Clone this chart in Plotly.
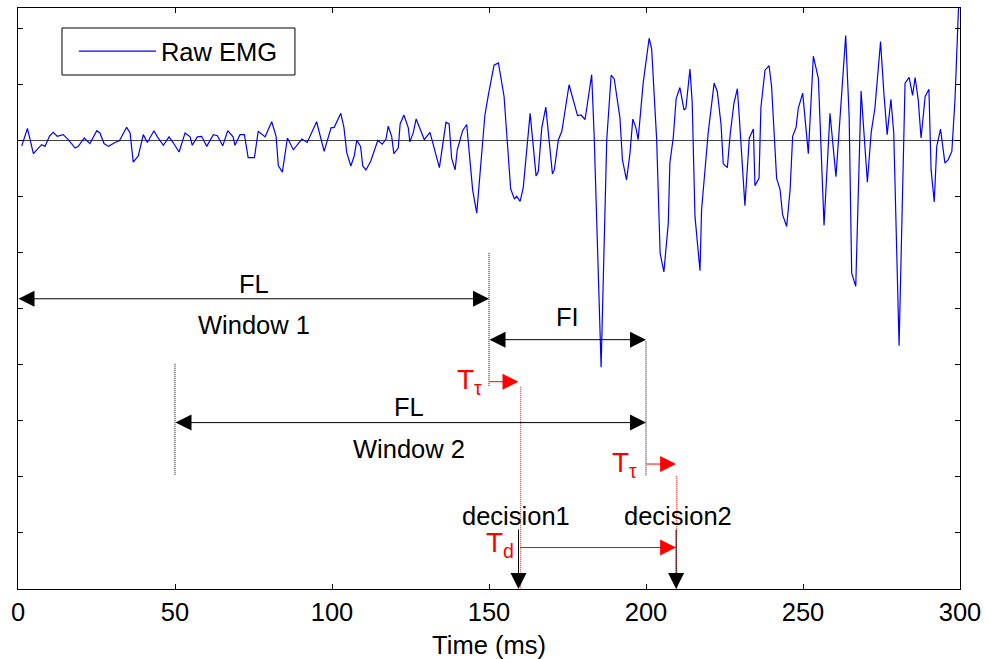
import plotly.graph_objects as go

# ---------------- data ----------------
time_ms = [1.2, 3.0, 4.9, 7.5, 8.6, 10.0, 11.2, 12.5, 14.4, 16.0, 18.2, 19.2, 21.1, 22.9, 25.1, 26.1,
           27.4, 28.8, 30.9, 32.3, 34.6, 35.7, 36.7, 38.3, 39.9, 41.2, 43.3, 44.4, 46.3, 48.1, 49.5,
           51.3, 53.2, 54.8, 55.5, 57.1, 58.5, 60.1, 62.2, 63.5, 65.2, 66.8, 68.5, 69.1, 70.7, 72.1,
           73.3, 75.3, 76.5, 78.7, 80.8, 82.2, 82.9, 84.2, 85.8, 87.7, 90.4, 92.1, 95.1, 97.5, 99.7,
           100.7, 102.8, 103.8, 104.7, 106.0, 107.1, 107.9, 109.1, 109.8, 110.8, 112.3, 114.6, 116.0,
           117.2, 117.9, 119.0, 119.7, 121.1, 121.7, 122.9, 124.3, 124.8, 125.9, 126.8, 127.8, 129.4,
           131.2, 133.0, 134.2, 136.3, 137.3, 138.1, 139.2, 139.9, 141.6, 142.9, 144.8, 146.1, 148.2,
           148.7, 149.8, 151.6, 153.0, 154.8, 156.9, 158.1, 158.8, 159.9, 160.9, 163.1, 165.0, 165.7,
           166.8, 168.1, 170.2, 170.8, 172.1, 173.2, 175.5, 178.2, 179.3, 180.6, 182.7, 183.5, 185.7,
           187.5, 188.9, 189.9, 191.7, 192.5, 193.8, 194.9, 195.8, 196.8, 197.5, 199.1, 201.0, 201.8,
           203.4, 204.5, 205.7, 207.1, 207.6, 208.7, 209.6, 210.8, 212.1, 212.7, 214.0, 214.7, 215.6,
           217.2, 217.7, 219.0, 219.8, 221.7, 222.7, 223.9, 224.6, 225.9, 226.8, 228.0, 229.1, 229.9,
           231.5, 232.9, 234.2, 234.7, 236.0, 236.6, 237.9, 239.2, 240.0, 241.6, 242.7, 243.5, 244.8,
           245.9, 246.7, 247.8, 248.5, 249.9, 251.7, 253.3, 254.9, 256.7, 258.6, 260.5, 263.6, 264.7,
           265.5, 266.8, 268.5, 270.5, 271.7, 272.9, 274.7, 275.8, 276.8, 278.0, 278.9, 280.6, 282.5,
           283.8, 284.9, 285.7, 286.7, 287.6, 288.9, 290.1, 290.8, 291.8, 292.6, 293.8, 295.2, 296.2,
           297.4, 298.4, 299.5, 300.0]
emg = [-0.09, 0.22, -0.23, -0.07, -0.10, 0.08, 0.15, 0.08, 0.11, 0.02, -0.13, -0.10, 0.05, -0.05, 0.18, 0.14,
       -0.05, -0.10, -0.03, 0.00, 0.24, 0.14, -0.38, -0.27, 0.11, -0.03, 0.18, 0.07, -0.08, 0.07, -0.04,
       -0.20, 0.14, 0.07, -0.08, 0.07, 0.08, -0.10, 0.11, 0.09, -0.09, 0.18, 0.07, -0.08, 0.11, 0.11,
       -0.30, -0.30, 0.17, 0.07, 0.34, 0.08, -0.44, -0.56, 0.05, -0.16, 0.03, -0.03, 0.34, -0.19, 0.23,
       0.24, 0.49, 0.24, -0.21, -0.45, -0.27, 0.01, -0.10, -0.45, -0.52, -0.37, 0.01, -0.06,
       0.03, 0.26, 0.08, -0.23, -0.13, 0.30, 0.46, 0.23, -0.02, 0.15, 0.39, 0.26, 0.02,
       0.15, -0.26, -0.48, 0.33, 0.30, -0.31, -0.52, -0.16, 0.18, 0.29, -0.88, -1.29, 0.02,
       0.46, 0.82, 1.35, 1.39, 0.79, -0.86, -1.04, -0.99, -1.08, -0.84, 0.49, -0.63, -0.55,
       0.23, 0.60, -0.59, -0.52, 0.02, 0.17, 1.00, 0.45, 0.46, 0.38, 1.18, 0.08, -4.04,
       0.02, 1.17, 1.10, 0.41, -0.34, -0.70, -0.22, 0.39, 0.23, 0.02, 1.03, 1.83, 1.64,
       0.02, -2.01, -2.34, -1.47, -0.40, 0.07, 0.75, 0.95, 0.55, 0.58, 1.28, 0.70, -1.35,
       -2.32, -1.23, -0.28, 0.14, 1.03, 0.88, 0.29, -0.41, -0.48, 0.11, 0.67, 0.93, 0.26,
       -1.16, 0.05, 0.21, -0.80, -0.67, 0.60, 1.26, 1.34, 0.97, -0.67, -0.87, -1.32, -1.53,
       -0.87, 0.08, 0.24, 0.58, 0.85, -0.23, 1.51, 1.11, -1.51, 0.49, -0.64, 1.88, 0.43,
       -2.36, -2.60, 0.89, -0.74, 0.14, 0.58, 1.77, 0.82, 0.11, 0.74, 0.14, -3.66, 1.03,
       1.13, 0.81, 1.13, 0.73, 0.05, 0.79, 0.92, -0.52, -1.09, -0.10, 0.21, -0.40, -0.34,
       -0.19, 0.73, 2.34, 2.45]

x_ticks = [0, 50, 100, 150, 200, 250, 300]
y_ticks = [-8, -7, -6, -5, -4, -3, -2, -1, 0, 1, 2]

# arrows: (x0, y0, x1, y1, colour, double-headed)
arrows = [
    (0, -2.82, 150, -2.82, "black", True),      # FL window 1
    (150, -3.55, 200, -3.55, "black", True),    # FI
    (50, -5.03, 200, -5.03, "black", True),     # FL window 2
    (150, -4.30, 159.4, -4.30, "red", False),   # T_tau 1
    (200, -5.77, 209.6, -5.77, "red", False),   # T_tau 2
    (159.7, -7.26, 209.6, -7.26, "red", False), # T_d
    (159.4, -6.93, 159.4, -8.0, "black", False),  # decision1
    (209.6, -6.93, 209.6, -8.0, "black", False),  # decision2
]
# dotted guide lines: (x, y0, y1, colour)
guides = [
    (150, -2.0, -4.39, "black"),
    (200, -3.58, -5.98, "black"),
    (50, -3.98, -5.98, "black"),
    (160.1, -4.39, -8.0, "red"),
    (209.8, -5.98, -8.0, "red"),
]
# labels: (text, x, y, colour, xanchor, size)
labels = [
    ("FL", 75, -2.55, "black", "center", 25.5),
    ("Window 1", 75, -3.29, "black", "center", 25.5),
    ("FI", 175, -3.14, "black", "center", 25.5),
    ("FL", 124.5, -4.76, "black", "center", 25.5),
    ("Window 2", 124.5, -5.50, "black", "center", 25.5),
    ("T<sub>τ</sub>", 148.4, -4.30, "red", "right", 28),
    ("T<sub>τ</sub>", 197.9, -5.78, "red", "right", 28),
    ("T<sub>d</sub>", 158.6, -7.21, "red", "right", 28),
    ("decision1", 158.5, -6.70, "black", "center", 25.5),
    ("decision2", 210.2, -6.70, "black", "center", 25.5),
]

FONT = "Liberation Sans, Arial, sans-serif"
FS = 25.5

fig = go.Figure()
fig.add_trace(go.Scatter(x=time_ms, y=emg, mode="lines", name="Raw EMG",
                         line=dict(color="#0000ff", width=1.2)))

for (x0, y0, x1, y1, c, both) in arrows:
    fig.add_annotation(x=x1, y=y1, ax=x0, ay=y0, xref="x", yref="y", axref="x", ayref="y",
                       text="", showarrow=True, arrowhead=2, arrowsize=3.2, arrowwidth=1,
                       arrowcolor=c, arrowside="end+start" if both else "end",
                       startarrowhead=2, startarrowsize=3.2, standoff=0, startstandoff=0,
                       font=dict(size=1), borderpad=0)

for (x, y0, y1, c) in guides:
    fig.add_shape(type="line", x0=x, x1=x, y0=y0, y1=y1, xref="x", yref="y",
                  line=dict(color=c, width=1, dash="1px,1px"))

for (t, x, y, c, xa, s) in labels:
    fig.add_annotation(x=x, y=y, xref="x", yref="y", text=t, showarrow=False,
                       xanchor=xa, yanchor="middle", font=dict(family=FONT, size=s, color=c))

# legend frame
fig.add_shape(type="rect", xref="paper", yref="paper", x0=0.0467, x1=0.294, y0=0.8847, y1=0.9656,
              line=dict(color="black", width=1), fillcolor="white", layer="above")

fig.update_layout(
    width=987, height=659,
    margin=dict(l=18, r=27, t=8, b=70),
    paper_bgcolor="white", plot_bgcolor="white",
    font=dict(family=FONT, size=FS, color="black"),
    showlegend=True,
    legend=dict(x=0.0594, y=0.9656, xanchor="left", yanchor="top",
                borderwidth=0, bgcolor="rgba(0,0,0,0)",
                font=dict(family=FONT, size=FS, color="black"), itemwidth=77),
)
fig.update_xaxes(range=[0, 300], tickvals=x_ticks, ticks="inside", ticklen=5, tickcolor="black",
                 showline=True, linecolor="black", linewidth=1, mirror="ticks", showgrid=False,
                 zeroline=False, automargin=False,
                 title=dict(text="Time (ms)", font=dict(size=FS), standoff=13),
                 tickfont=dict(size=FS))
fig.update_yaxes(range=[-8, 2.37], tickvals=y_ticks, ticks="inside", ticklen=5, tickcolor="black",
                 showticklabels=False, showline=True, linecolor="black", linewidth=1,
                 mirror="ticks", showgrid=False, zeroline=True, zerolinecolor="#444444",
                 zerolinewidth=1.3, automargin=False)

fig.write_html("out.html", config={"displayModeBar": False},
               post_script="document.body.style.margin='0px';")
